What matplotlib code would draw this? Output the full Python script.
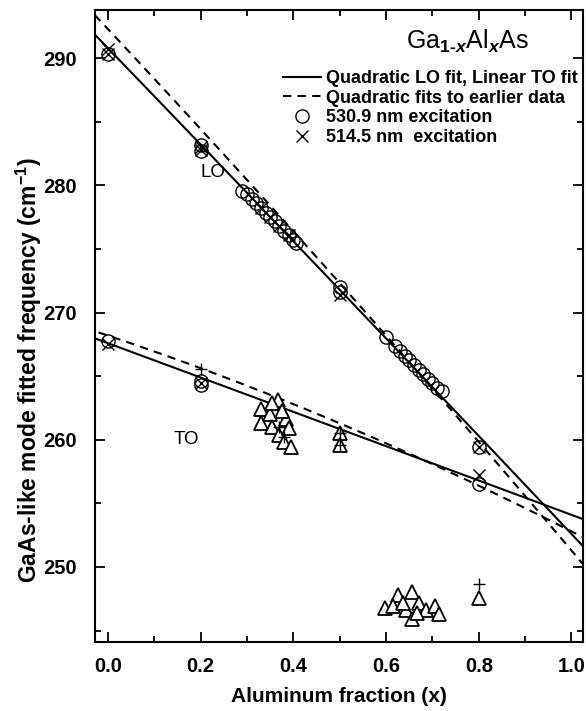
import matplotlib; matplotlib.use('Agg')
import matplotlib.pyplot as plt
import numpy as np
from matplotlib.lines import Line2D

plt.rcParams['font.family'] = ['Liberation Sans', 'DejaVu Sans']
plt.rcParams['mathtext.fontset'] = 'custom'
plt.rcParams['mathtext.rm'] = 'Liberation Sans:bold'
plt.rcParams['mathtext.it'] = 'Liberation Sans:bold:italic'

# --- data ---
# LO mode, 530.9 nm excitation (circles)
lo_c_x = [0.0, 0.2, 0.2, 0.29, 0.30, 0.31, 0.32, 0.33, 0.34, 0.35, 0.36, 0.37, 0.38, 0.39, 0.40, 0.405,
          0.5, 0.5, 0.60, 0.62, 0.63, 0.64, 0.65, 0.66, 0.67, 0.68, 0.69, 0.70, 0.71, 0.72, 0.8]
lo_c_y = [290.3, 283.2, 282.7, 279.6, 279.3, 278.9, 278.6, 278.2, 277.8, 277.5, 277.2, 276.8, 276.4, 276.1, 275.7, 275.5,
          272.0, 271.6, 268.1, 267.4, 267.0, 266.6, 266.3, 265.9, 265.5, 265.2, 264.8, 264.5, 264.1, 263.8, 259.4]
# LO mode, 514.5 nm excitation (crosses)
lo_x_x = [0.0, 0.0, 0.2, 0.2, 0.33, 0.35, 0.37, 0.39, 0.5, 0.8]
lo_x_y = [290.3, 290.7, 283.0, 282.8, 278.2, 277.5, 276.8, 276.1, 271.4, 259.4]
# TO mode
to_c_x = [0.0, 0.2, 0.2, 0.8]
to_c_y = [267.8, 264.6, 264.3, 256.5]
to_x_x = [0.0, 0.2, 0.8]
to_x_y = [267.5, 264.5, 257.2]
# other points (triangles, pluses)
tri_x = [0.33, 0.33, 0.35, 0.366, 0.355, 0.37, 0.38, 0.385, 0.39, 0.395, 0.355, 0.375, 0.5, 0.5,
         0.597, 0.625, 0.655, 0.614, 0.644, 0.655, 0.672, 0.687, 0.705, 0.715, 0.636, 0.666, 0.8]
tri_y = [262.4, 261.3, 262.0, 263.1, 261.0, 260.4, 259.8, 261.6, 260.9, 259.4, 262.9, 262.3, 260.5, 259.6,
         246.8, 247.8, 248.0, 246.9, 246.6, 245.9, 247.2, 246.6, 246.9, 246.3, 247.2, 246.4, 247.6]
plus_x = [0.2, 0.37, 0.38, 0.5, 0.5, 0.8]
plus_y = [265.6, 261.0, 260.2, 260.5, 259.6, 248.7]

# fits
lo_fit = [290.8, -37.8, -0.4]
to_fit = [267.6, -13.5]
lo_old = [292.3, -38.9, -2.1]
to_old = [268.2, -12.2, -3.2]

fig = plt.figure(figsize=(5.86, 7.11), dpi=100)
ax = fig.add_axes([0.162, 0.097, 0.833, 0.889])

xx = np.linspace(-0.05, 1.05, 300)
ax.plot(xx, lo_fit[0] + lo_fit[1]*xx + lo_fit[2]*xx**2, 'k-', lw=1.5)
ax.plot(xx, to_fit[0] + to_fit[1]*xx, 'k-', lw=1.5)
ax.plot(xx, lo_old[0] + lo_old[1]*xx + lo_old[2]*xx**2, 'k--', lw=1.5, dashes=(4, 3))
ax.plot(xx, to_old[0] + to_old[1]*xx + to_old[2]*xx**2, 'k--', lw=1.5, dashes=(4, 3))

ax.plot(tri_x, tri_y, '^', ms=10, mfc='white', mec='black', mew=1.3, ls='none')
ax.plot(plus_x, plus_y, '+', ms=9, mec='black', mew=1.0, ls='none')
ax.plot(lo_c_x, lo_c_y, 'o', ms=9.5, mfc='none', mec='black', mew=1.0, ls='none')
ax.plot(to_c_x, to_c_y, 'o', ms=9.5, mfc='none', mec='black', mew=1.0, ls='none')
ax.plot(lo_x_x, lo_x_y, 'x', ms=8, mec='black', mew=1.0, ls='none')
ax.plot(to_x_x, to_x_y, 'x', ms=8, mec='black', mew=1.0, ls='none')

ax.set_xlim(-0.028, 1.025)
ax.set_ylim(244.1, 293.8)
ax.set_xticks([0.0, 0.2, 0.4, 0.6, 0.8, 1.0])
ax.set_xticks(np.arange(0.1, 1.0, 0.2), minor=True)
ax.set_yticks([250, 260, 270, 280, 290])
ax.set_yticks([245, 255, 265, 275, 285], minor=True)
ax.xaxis.set_major_formatter(plt.FormatStrFormatter('%.1f'))
ax.tick_params(which='both', direction='in', top=True, right=True, width=1.3)
ax.tick_params(which='major', length=7, labelsize=14.5)
ax.tick_params(axis='y', which='major', pad=13)
ax.tick_params(axis='x', which='major', pad=11)
ax.tick_params(which='minor', length=4)
for t in ax.get_xticklabels() + ax.get_yticklabels():
    t.set_fontweight('bold')
for s in ax.spines.values():
    s.set_linewidth(1.5)

ax.set_xlabel('Aluminum fraction (x)', fontsize=15, fontweight='bold', labelpad=8)
ax.set_ylabel('GaAs-like mode fitted frequency (cm$^{-1}$)', fontsize=16.5, fontweight='bold')
ax.yaxis.set_label_coords(-0.104, 0.43)

ax.text(0.226, 281.0, 'LO', fontsize=13.5, ha='center', va='center')
ax.text(0.17, 260.0, 'TO', fontsize=13.5, ha='center', va='center')
ax.text(0.775, 291.3, r'Ga$_{1\text{-}x}$Al$_x$As', fontsize=18, ha='center', va='center')

handles = [Line2D([], [], color='k', lw=1.5),
           Line2D([], [], color='k', lw=1.5, ls='--', dashes=(4, 3)),
           Line2D([], [], marker='o', ms=9.5, mfc='none', mec='k', ls='none'),
           Line2D([], [], marker='x', ms=9, mec='k', ls='none')]
labels = ['Quadratic LO fit, Linear TO fit', 'Quadratic fits to earlier data',
          '530.9 nm excitation', '514.5 nm  excitation']
leg = ax.legend(handles, labels, loc='upper right', bbox_to_anchor=(1.015, 0.925), frameon=False,
                handlelength=2.1, handletextpad=0.3, labelspacing=0.15, borderaxespad=0.3,
                prop={'size': 13, 'weight': 'bold'})

fig.savefig('out.png', dpi=100, facecolor='white')
